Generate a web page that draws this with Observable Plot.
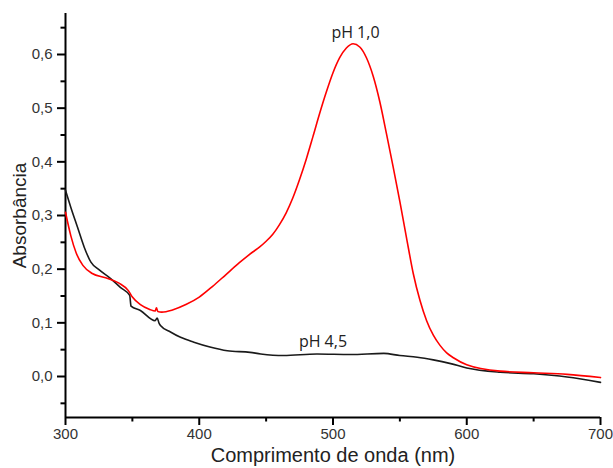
<!DOCTYPE html>
<html>
<head>
<meta charset="utf-8">
<script src="https://cdn.jsdelivr.net/npm/d3@7"></script>
<script src="https://cdn.jsdelivr.net/npm/@observablehq/plot@0.6"></script>
<style>
  html, body { margin: 0; padding: 0; background: #fff; }
</style>
</head>
<body>
<div id="chart"></div>
<script>
// pH 1,0 (red)
const nmAcid = [300, 304, 308, 313, 320, 330, 340, 347, 350, 356, 363, 367, 368, 369, 372, 380, 390, 400, 410, 420, 430, 440, 445, 450, 455, 460, 465, 470, 475, 480, 485, 490, 495, 500, 505, 510, 515, 520, 525, 530, 535, 540, 545, 550, 555, 560, 565, 570, 575, 580, 585, 590, 600, 625, 650, 675, 700];
const absAcid = [0.306, 0.262, 0.230, 0.207, 0.192, 0.184, 0.174, 0.160, 0.148, 0.134, 0.125, 0.122, 0.128, 0.121, 0.120, 0.124, 0.134, 0.148, 0.168, 0.190, 0.212, 0.232, 0.241, 0.252, 0.265, 0.283, 0.305, 0.333, 0.367, 0.405, 0.447, 0.490, 0.530, 0.566, 0.594, 0.612, 0.620, 0.614, 0.594, 0.560, 0.512, 0.452, 0.390, 0.326, 0.258, 0.192, 0.142, 0.104, 0.077, 0.058, 0.044, 0.035, 0.022, 0.010, 0.007, 0.004, -0.002];

// pH 4,5 (black)
const nmBase = [300, 304, 309, 314, 319, 325, 334, 341, 348, 349, 356, 367, 368.5, 370, 371, 378.5, 386, 396, 408, 421, 438, 446, 463, 488, 513, 538, 550, 563, 575, 588, 600, 625, 650, 675, 700];
const absBase = [0.347, 0.315, 0.278, 0.241, 0.213, 0.199, 0.182, 0.166, 0.151, 0.131, 0.123, 0.104, 0.109, 0.099, 0.095, 0.083, 0.073, 0.064, 0.055, 0.048, 0.045, 0.042, 0.039, 0.042, 0.041, 0.043, 0.039, 0.036, 0.031, 0.024, 0.016, 0.008, 0.005, -0.001, -0.011];

const xTicks = [300, 400, 500, 600, 700];
const xMinor = [350, 450, 550, 650];
const yTicks = [0, 0.1, 0.2, 0.3, 0.4, 0.5, 0.6];
const yMinor = [-0.05, 0.05, 0.15, 0.25, 0.35, 0.45, 0.55, 0.65];
const xDomain = [300, 700];
const yDomain = [-0.0764, 0.6764];

const labels = [
  {nm: 516.8, a: 0.640, text: "pH 1,0"},
  {nm: 492.5, a: 0.064, text: "pH 4,5"}
];

const acid = nmAcid.map((x, i) => ({x, y: absAcid[i]}));
const base = nmBase.map((x, i) => ({x, y: absBase[i]}));
const fmt = d => d.toFixed(1).replace(".", ",");

const chart = Plot.plot({
  width: 613,
  height: 468,
  marginLeft: 65,
  marginRight: 13,
  marginTop: 13,
  marginBottom: 51,
  style: {fontFamily: "'Liberation Sans', Arial, sans-serif", fontSize: "15px", color: "#333", background: "#fff"},
  x: {domain: xDomain},
  y: {domain: yDomain},
  marks: [
    Plot.axisX({ticks: xTicks, tickSize: 8, tickPadding: 3, strokeWidth: 2, stroke: "#000", tickFormat: d => d, label: null, fontSize: 15}),
    Plot.axisX({ticks: xMinor, tickSize: 4.5, strokeWidth: 2, stroke: "#000", tickFormat: () => "", label: null}),
    Plot.axisY({ticks: yTicks, tickSize: 8, tickPadding: 5, strokeWidth: 2, stroke: "#000", tickFormat: fmt, label: null, fontSize: 15}),
    Plot.axisY({ticks: yMinor, tickSize: 4.5, strokeWidth: 2, stroke: "#000", tickFormat: () => "", label: null}),
    Plot.ruleX([xDomain[0]], {stroke: "#000", strokeWidth: 2}),
    Plot.ruleY([yDomain[0]], {stroke: "#000", strokeWidth: 2}),
    Plot.line(base, {x: "x", y: "y", stroke: "#1a1a1a", strokeWidth: 1.6, curve: "monotone-x"}),
    Plot.line(acid, {x: "x", y: "y", stroke: "#ff0000", strokeWidth: 1.6, curve: "monotone-x"}),
    Plot.text(labels, {x: "nm", y: "a", text: "text", fontFamily: "'Open Sans', sans-serif", fontSize: 16, fill: "#222"}),
    Plot.text(["Comprimento de onda (nm)"], {text: d => d, frameAnchor: "bottom", dy: 44, fontSize: 20, fill: "#222"}),
    Plot.text(["Absorbância"], {text: d => d, frameAnchor: "left", textAnchor: "middle", dx: -46, rotate: -90, fontSize: 19, fill: "#222"})
  ]
});
document.getElementById("chart").appendChild(chart);
</script>
</body>
</html>
